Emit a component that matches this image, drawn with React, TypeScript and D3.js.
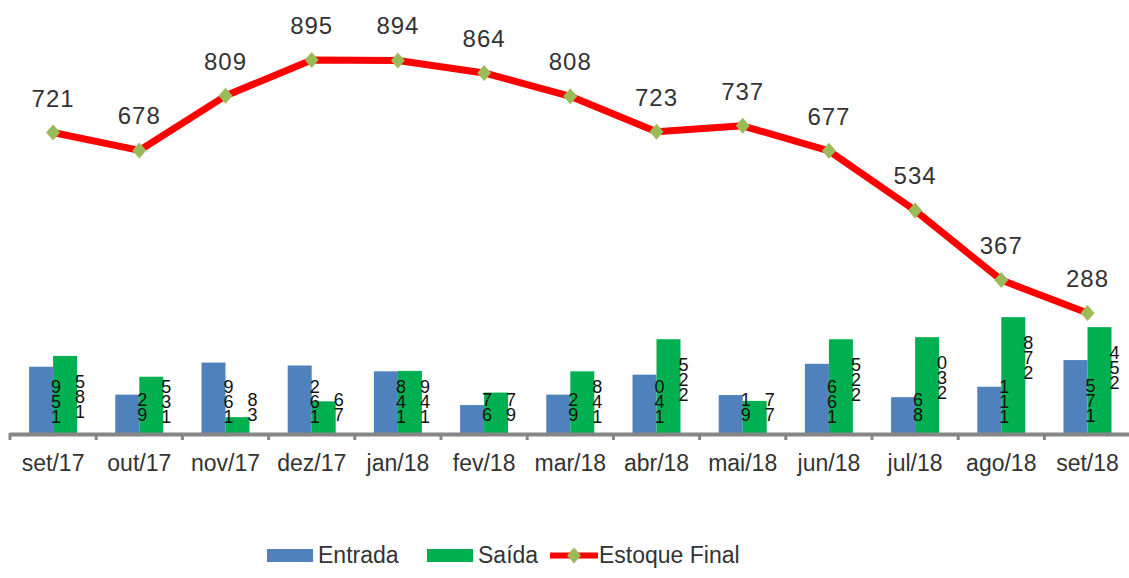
import React from 'react';
import * as d3 from 'd3';

const categories = ['set/17','out/17','nov/17','dez/17','jan/18','fev/18','mar/18','abr/18','mai/18','jun/18','jul/18','ago/18','set/18'];
const entrada = [159, 92, 169, 162, 148, 67, 92, 140, 91, 166, 86, 111, 175];
const saida = [185, 135, 38, 76, 149, 97, 148, 225, 77, 225, 230, 278, 254];
const estoque = [721, 678, 809, 895, 894, 864, 808, 723, 737, 677, 534, 367, 288];
const seriesNames = ['Entrada', 'Saída'];

const W = 1129, H = 578;
const FONT = '"Liberation Sans", Arial, sans-serif';
const BLUE = '#4F81BD', GREEN = '#00B050', RED = '#FF0000', MARK = '#9BBB59';

export default function App() {
  const x0 = d3.scaleBand<string>().domain(categories).range([10, 10 + 86.2 * categories.length]).paddingInner(0).paddingOuter(0);
  const groupW = 48;
  const x1 = d3.scaleBand<string>().domain(seriesNames).range([0, groupW]).padding(0);
  const y = d3.scaleLinear().domain([0, 895]).range([433, 60]);
  const off = (x0.bandwidth() - groupW) / 2;
  const cx = (c: string) => (x0(c) as number) + x0.bandwidth() / 2;

  const line = d3.line<number>().x((_, i) => cx(categories[i])).y(d => y(d)).curve(d3.curveLinear);

  const diamond = (px: number, py: number, hw = 7, hh = 8) =>
    `M${px},${py - hh}L${px + hw},${py}L${px},${py + hh}L${px - hw},${py}Z`;

  const step = 13;
  const fs = 18;
  const barLabel = (v: number, xr: number, key: string) => {
    const s = String(v);
    const bottom = Math.min(y(v) + 57, 418);
    const top = bottom - (s.length - 1) * step - 13;
    // digits shown stacked, first digit at the bottom
    const shown = s.split('').reverse().join('');
    return (
      <text key={key} x={xr + 3} y={top - 2} fontSize={fs} fontFamily={FONT} fill="#111"
        style={{ writingMode: 'vertical-rl', textOrientation: 'upright', letterSpacing: `${step - fs}px` } as any}>
        {shown}
      </text>
    );
  };

  const series = [entrada, saida];
  const colors = [BLUE, GREEN];

  return (
    <svg width={W} height={H} style={{ position: 'absolute', left: 0, top: 0, background: '#fff' }}>
      {categories.map((c, i) => (
        <g key={c}>
          {seriesNames.map((s, k) => {
            const bx = (x0(c) as number) + off + (x1(s) as number);
            const v = series[k][i];
            return <rect key={s} x={bx} y={y(v)} width={x1.bandwidth()} height={y(0) - y(v)} fill={colors[k]} />;
          })}
        </g>
      ))}
      <line x1={10} x2={W} y1={434.5} y2={434.5} stroke="#868686" strokeWidth={4} />
      {d3.range(categories.length + 1).map(k => {
        const tx = 10 + k * x0.step();
        return <line key={k} x1={tx} x2={tx} y1={433} y2={440} stroke="#868686" strokeWidth={3} />;
      })}
      {categories.map(c => (
        <text key={c} x={cx(c)} y={471} textAnchor="middle" fontSize={23} fontFamily={FONT} fill="#333">{c}</text>
      ))}
      {categories.map((c, i) =>
        seriesNames.map((s, k) => {
          const xr = (x0(c) as number) + off + (x1(s) as number) + x1.bandwidth();
          return barLabel(series[k][i], xr, c + s);
        })
      )}
      <path d={line(estoque) as string} fill="none" stroke={RED} strokeWidth={7} strokeLinejoin="round" />
      {estoque.map((v, i) => (
        <path key={i} d={diamond(cx(categories[i]), y(v))} fill={MARK} />
      ))}
      {estoque.map((v, i) => (
        <text key={i} x={cx(categories[i])} y={y(v) - 26} textAnchor="middle" fontSize={24} fontFamily={FONT} fill="#333" letterSpacing={1}>{v}</text>
      ))}
      <rect x={267} y={549} width={46} height={13} fill={BLUE} />
      <text x={318} y={563} fontSize={23} fontFamily={FONT} fill="#333">Entrada</text>
      <rect x={427} y={549} width={46} height={13} fill={GREEN} />
      <text x={478} y={563} fontSize={23} fontFamily={FONT} fill="#333">Saída</text>
      <line x1={550} x2={598} y1={555.5} y2={555.5} stroke={RED} strokeWidth={6} />
      <path d={diamond(574, 555.5)} fill={MARK} />
      <text x={599} y={563} fontSize={23} fontFamily={FONT} fill="#333">Estoque Final</text>
    </svg>
  );
}
